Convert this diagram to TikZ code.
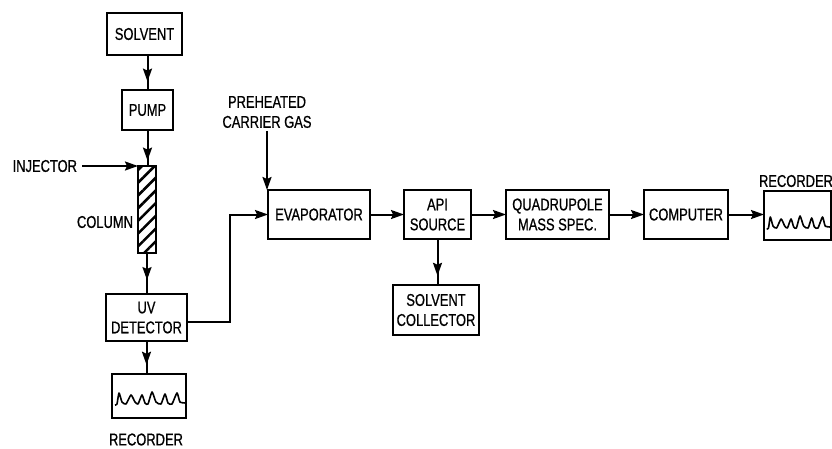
\documentclass[tikz,border=0pt]{standalone}
\usepackage{fontspec}
\setmainfont[FakeStretch=0.76,FakeBold=0.7]{Liberation Sans}
\usetikzlibrary{arrows.meta,patterns.meta,decorations.markings}

\begin{document}
\begin{tikzpicture}[x=1pt,y=-1pt,text=black,
  unit/.style={draw=black,fill=white,line width=2pt,inner sep=0pt,outer sep=0pt,align=center,font=\fontsize{17}{20}\selectfont},
  tag/.style={inner sep=3pt,outer sep=0pt,align=center,font=\fontsize{17}{20}\selectfont},
  flow/.style={-{Stealth[length=13pt,width=9pt,inset=2pt]},line width=2pt},
  midflow/.style={line width=2pt,postaction={decorate},decoration={markings,
    mark=at position #1 with {\arrow{Stealth[length=13pt,width=9pt,inset=2pt]}}}},
  trace/.pic={\draw[line width=1.6pt,line join=round] plot[smooth,tension=.35] coordinates
    {(3,2) (5,1) (7,-10) (10,-1) (14,1) (19,-8) (23,-1) (26,1) (30,-8) (33,0) (36,1) (40,-11) (44,-1) (49,1) (53,-9) (56,0) (60,1) (65,-10) (68,-1) (74,0)};}]
\useasboundingbox (0,0) rectangle (832,448);
\fill[white] (0,0) rectangle (832,448);

% LEFT COLUMN
\node[unit,minimum width=75pt,minimum height=42pt] (solvent) at (144.5,34) {SOLVENT};
\node[unit,minimum width=51pt,minimum height=40pt] (pump) at (147.5,110) {PUMP};
\node[unit,minimum width=18pt,minimum height=87pt,pattern={Lines[angle=45,distance=9pt,line width=2.6pt]}] (column) at (147,209.5) {};
\node[unit,minimum width=81pt,minimum height=47pt] (uv) at (146.5,317.5) {UV\\DETECTOR};
\node[unit,minimum width=74pt,minimum height=44pt] (reclow) at (149,396) {};
\path (reclow.west) ++(0,7) pic {trace};
\node[tag,inner sep=0pt] (reclowname) at (146,439.5) {RECORDER};
\node[tag,anchor=east,inner sep=5pt] (injector) at (82,166) {INJECTOR};
\node[tag,anchor=east,inner sep=1pt] (columnname) at (134,222) {COLUMN};

% MAIN ROW
\node[tag] (gas) at (267,112) {PREHEATED\\CARRIER GAS};
\node[unit,minimum width=102pt,minimum height=49pt] (evap) at (319,214.5) {EVAPORATOR};
\node[unit,minimum width=67pt,minimum height=49pt] (api) at (437.5,214.5) {API\\SOURCE};
\node[unit,minimum width=103pt,minimum height=49pt] (quad) at (557.5,214.5) {QUADRUPOLE\\MASS SPEC.};
\node[unit,minimum width=84pt,minimum height=49pt] (computer) at (686,214.5) {COMPUTER};
\node[unit,minimum width=67pt,minimum height=49pt] (recright) at (797.5,215) {};
\path (recright.west) ++(0,12) pic[xscale=.9] {trace};
\node[tag] (recrightname) at (796,181) {RECORDER};
\node[unit,minimum width=86pt,minimum height=50pt] (collector) at (436,310) {SOLVENT\\COLLECTOR};

% CONNECTORS
\draw[midflow=.76] (solvent.south -| pump.south) -- (pump.north);
\draw[midflow=.85] (pump.south) -- (pump.south |- column.north);
\draw[flow] (injector.east) -- (column.north west);
\draw[midflow=.66] (column.south) -- (column.south |- uv.north);
\draw[midflow=.72] (uv.south) -- (uv.south |- reclow.north);
\draw[flow] ([yshift=-4pt]uv.east) -- ++(43,0) |- (evap.west);
\draw[flow] (gas.south) -- (gas.south |- evap.north);
\draw[flow] (evap) -- (api);
\draw[flow] (api) -- (quad);
\draw[flow] (quad) -- (computer);
\draw[flow] (computer) -- (recright.west |- computer);
\draw[midflow=.8] (api.south) -- (api.south |- collector.north);
\end{tikzpicture}
\end{document}
